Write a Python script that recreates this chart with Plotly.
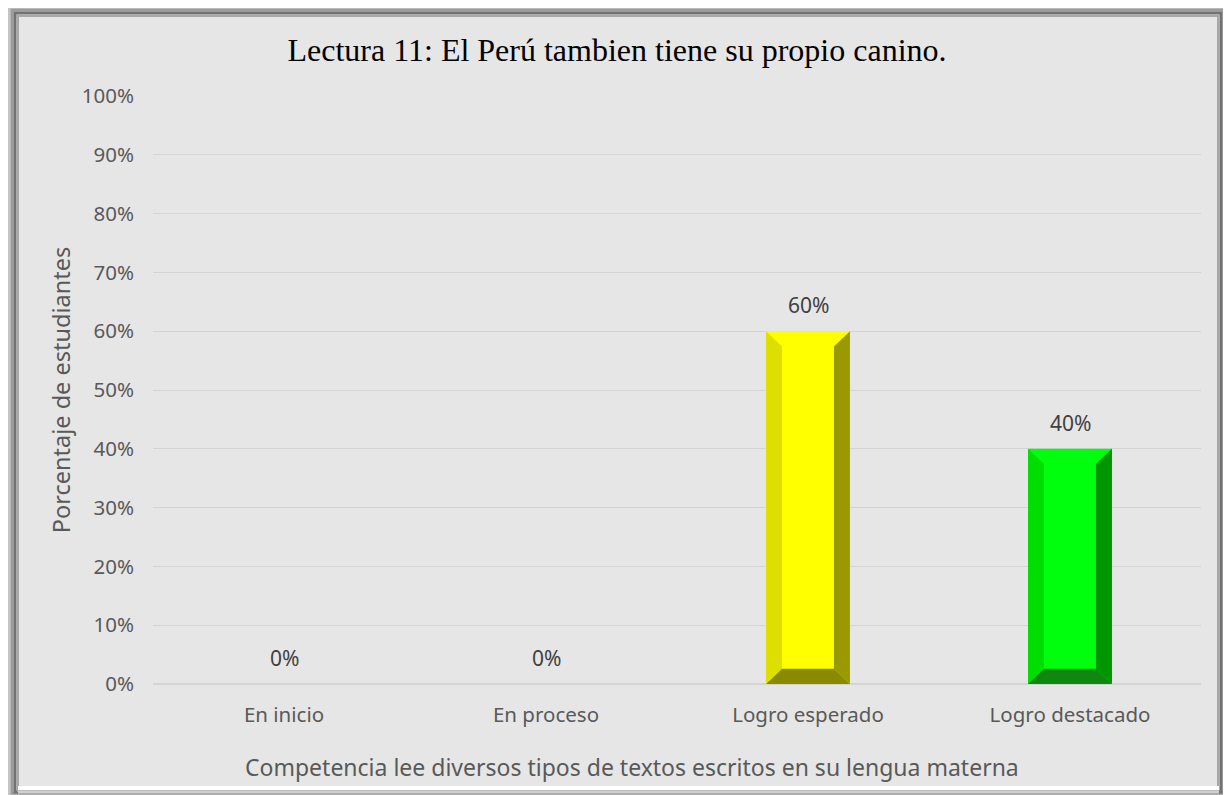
import plotly.graph_objects as go

categorias = ["En inicio", "En proceso", "Logro esperado", "Logro destacado"]
porcentajes = [0.0, 0.0, 0.60, 0.40]
color_cara = ["#ff0000", "#ffc000", "#ffff00", "#00ff0c"]
color_izq = ["#dd0000", "#dda600", "#dede00", "#00dd00"]
color_der = ["#990000", "#997300", "#999900", "#009600"]
color_abajo = ["#8a0000", "#8a6800", "#8a8a00", "#0f880f"]
ticks_y = [0, 0.1, 0.2, 0.3, 0.4, 0.5, 0.6, 0.7, 0.8, 0.9, 1.0]
titulo_x = "Competencia lee diversos tipos de textos escritos en su lengua materna"

# la pagina html deja 8px de margen en el body
OFF = 8
W, H = 1231 - OFF, 795 - OFF
ML, MR, MT, MB = 153 - OFF, 30, 96 - OFF, 111
ancho = 0.32
bx, by = 0.061, 0.026

fig = go.Figure()
xs = list(range(len(categorias)))

fig.add_trace(go.Bar(x=xs, y=porcentajes, width=ancho, marker_color=color_cara,
                     marker_line_width=0, showlegend=False))

# bisel de cada barra
for i, v in enumerate(porcentajes):
    if v <= 0:
        continue
    c, w = xs[i], ancho / 2
    polys = [
        ([c - w, c - w, c - w + bx, c - w + bx, c - w], [0, v, v - by, by, 0], color_izq[i]),
        ([c + w, c + w, c + w - bx, c + w - bx, c + w], [0, v, v - by, by, 0], color_der[i]),
        ([c - w, c + w, c + w - bx, c - w + bx, c - w], [0, 0, by, by, 0], color_abajo[i]),
    ]
    for px, py, col in polys:
        fig.add_trace(go.Scatter(x=px, y=py, fill="toself", fillcolor=col, mode="lines",
                                 line=dict(width=0, color=col), showlegend=False,
                                 hoverinfo="skip"))

for i, v in enumerate(porcentajes):
    fig.add_annotation(x=xs[i], y=v, text=f"{v:.0%}", showarrow=False, yanchor="bottom",
                       yshift=10, font=dict(family="Noto Sans", size=21, color="#404040"))

# marco (coordenadas de pagina)
def px_x(X):
    return (X - OFF - ML) / (W - ML - MR)

def px_y(Y):
    return 1 - (Y - OFF - MT) / (H - MT - MB)

fig.add_annotation(xref="paper", yref="paper", x=px_x(632), y=px_y(767), text=titulo_x,
                   showarrow=False, xanchor="center", yanchor="middle",
                   font=dict(family="Noto Sans", size=23, color="#595959"))

fig.add_shape(type="rect", xref="paper", yref="paper", x0=px_x(10), x1=px_x(1224),
              y0=px_y(792), y1=px_y(8), fillcolor="#e6e6e6", line_width=0, layer="below")
marcos = [(9, 7, 794, "#c4c4c4", 3), (12, 10, 793, "#9c9c9c", 3),
          (15, 13, 792, "#727272", 3), (18, 16, 791, "#a8a8a8", 2)]
for ix, iy, yb, col, lw in marcos:
    fig.add_shape(type="rect", xref="paper", yref="paper", x0=px_x(ix), x1=px_x(1231 - ix + 5),
                  y0=px_y(yb), y1=px_y(iy), line=dict(color=col, width=lw), layer="below")
fig.add_shape(type="line", xref="paper", yref="paper", x0=px_x(18), x1=px_x(1219),
              y0=px_y(788), y1=px_y(788), line=dict(color="#ffffff", width=4), layer="below")
fig.add_shape(type="line", xref="paper", yref="paper", x0=px_x(18), x1=px_x(1219),
              y0=px_y(792), y1=px_y(792), line=dict(color="#d0d0d0", width=3), layer="below")

fig.update_layout(
    width=W, height=H,
    margin=dict(l=ML, r=MR, t=MT, b=MB),
    paper_bgcolor="white",
    plot_bgcolor="rgba(0,0,0,0)",
    title=dict(text="Lectura 11: El Perú tambien tiene su propio canino.", x=(617 - OFF) / W,
               xref="container", xanchor="center", y=1 - (50 - OFF) / H, yanchor="middle",
               font=dict(family="Liberation Serif", size=32, color="black")),
    font=dict(family="Noto Sans", color="#595959"),
)
fig.update_xaxes(range=[-0.5, len(categorias) - 0.5], tickvals=xs, ticktext=categorias,
                 showgrid=False, zeroline=False, showline=False, ticks="",
                 tickfont=dict(size=20.5, color="#595959"), ticklabelstandoff=16)
fig.update_yaxes(range=[0, 1], tickvals=ticks_y, tickformat=".0%", showgrid=True,
                 gridcolor="#d4d4d4", gridwidth=1, zeroline=True, zerolinecolor="#d4d4d4",
                 ticks="", tickfont=dict(size=20.5, color="#595959"), ticklabelstandoff=18,
                 title=dict(text="Porcentaje de estudiantes", font=dict(size=23.5, color="#595959"),
                            standoff=4))

fig.write_html("out.html")
